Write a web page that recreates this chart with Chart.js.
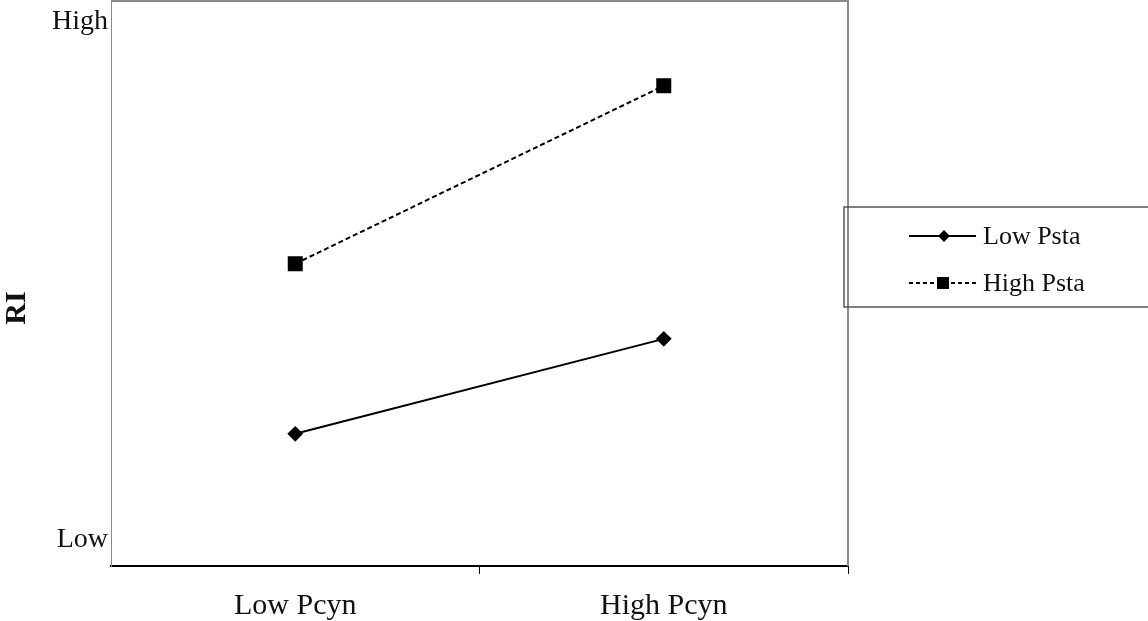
<!DOCTYPE html>
<html>
<head>
<meta charset="utf-8">
<script src="https://cdn.jsdelivr.net/npm/chart.js@4/dist/chart.umd.min.js"></script>
<style>
html,body{margin:0;padding:0;background:#fff;}
#wrap{width:1148px;height:621px;position:relative;}
</style>
</head>
<body>
<div id="wrap"><canvas id="c" width="1148" height="621"></canvas></div>
<script>
const categories = ["Low Pcyn", "High Pcyn"];
const seriesNames = ["Low Psta", "High Psta"];
const lowPsta = [23.4, 40.2];
const highPsta = [53.5, 85.0];
const yTickValues = [4.6, 96.3];
const yTickLabels = ["Low", "High"];
const yTitle = "RI";

const FONT = "'Liberation Serif', 'Times New Roman', serif";

const frame = {
  id: 'frame',
  afterDraw(chart) {
    const {ctx, chartArea: a} = chart;
    ctx.save();
    ctx.strokeStyle = '#8a8a8a';
    ctx.lineWidth = 2;
    ctx.beginPath();
    ctx.moveTo(a.left, a.top);
    ctx.lineTo(a.right, a.top);
    ctx.lineTo(a.right, a.bottom);
    ctx.stroke();
    // y title
    ctx.save();
    ctx.translate(17, 308);
    ctx.rotate(-Math.PI / 2);
    ctx.fillStyle = '#111';
    ctx.font = "bold 30px " + FONT;
    ctx.textAlign = 'center';
    ctx.textBaseline = 'middle';
    ctx.fillText(yTitle, 0, 0);
    ctx.restore();
    // legend
    const lx = 844, ly = 207, lw = 320, lh = 100;
    ctx.strokeStyle = '#555';
    ctx.lineWidth = 1.5;
    ctx.strokeRect(lx, ly, lw, lh);
    const rows = [
      {name: seriesNames[0], y: 236, dash: [], style: 'diamond'},
      {name: seriesNames[1], y: 283, dash: [4, 3], style: 'square'}
    ];
    rows.forEach(r => {
      ctx.strokeStyle = '#000';
      ctx.lineWidth = 2;
      ctx.setLineDash(r.dash);
      ctx.beginPath();
      ctx.moveTo(909, r.y);
      ctx.lineTo(976, r.y);
      ctx.stroke();
      ctx.setLineDash([]);
      ctx.fillStyle = '#000';
      ctx.beginPath();
      if (r.style === 'diamond') {
        ctx.moveTo(944, r.y - 6); ctx.lineTo(950, r.y); ctx.lineTo(944, r.y + 6); ctx.lineTo(938, r.y);
        ctx.closePath(); ctx.fill();
      } else {
        ctx.fillRect(937, r.y - 6, 12, 12);
      }
      ctx.fillStyle = '#111';
      ctx.font = "26px " + FONT;
      ctx.textBaseline = 'middle';
      ctx.textAlign = 'left';
      ctx.fillText(r.name, 983, r.y + 1);
    });
    ctx.restore();
  }
};

new Chart(document.getElementById('c'), {
  type: 'line',
  data: {
    labels: categories,
    datasets: [
      {
        label: seriesNames[0],
        data: lowPsta,
        borderColor: '#000',
        backgroundColor: '#000',
        borderWidth: 2,
        pointStyle: 'rectRot',
        pointRadius: 6.5,
        pointHoverRadius: 6.5,
        tension: 0
      },
      {
        label: seriesNames[1],
        data: highPsta,
        borderColor: '#000',
        backgroundColor: '#000',
        borderWidth: 2,
        borderDash: [5, 3],
        pointStyle: 'rect',
        pointRadius: 9.2,
        pointHoverRadius: 9.2,
        tension: 0
      }
    ]
  },
  options: {
    responsive: false,
    animation: false,
    layout: {autoPadding: false, padding: {left: 0, right: 300, top: 1, bottom: 0}},
    plugins: {legend: {display: false}, tooltip: {enabled: false}},
    scales: {
      x: {
        type: 'category',
        offset: true,
        grid: {
          display: true,
          drawOnChartArea: false,
          drawTicks: true,
          tickLength: 8,
          offset: true,
          lineWidth: 1,
          color: (ctx) => ctx.index === 0 ? 'rgba(0,0,0,0)' : '#000'
        },
        border: {display: true, color: '#000', width: 2},
        ticks: {
          color: '#111',
          font: {family: FONT, size: 30},
          padding: 14,
          maxRotation: 0
        },
        afterFit(scale) { scale.height = 55; }
      },
      y: {
        min: 0,
        max: 100,
        grid: {display: false, drawTicks: false},
        border: {display: true, color: '#8a8a8a', width: 1},
        afterBuildTicks(scale) {
          scale.ticks = yTickValues.map(v => ({value: v}));
        },
        ticks: {
          color: '#111',
          font: {family: FONT, size: 28},
          padding: 3,
          callback: (v, i) => yTickLabels[i]
        },
        title: {display: false},
        afterFit(scale) {
          scale.width = 111;
          scale.paddingTop = 0;
          scale.paddingBottom = 0;
        }
      }
    }
  },
  plugins: [frame]
});
</script>
</body>
</html>
